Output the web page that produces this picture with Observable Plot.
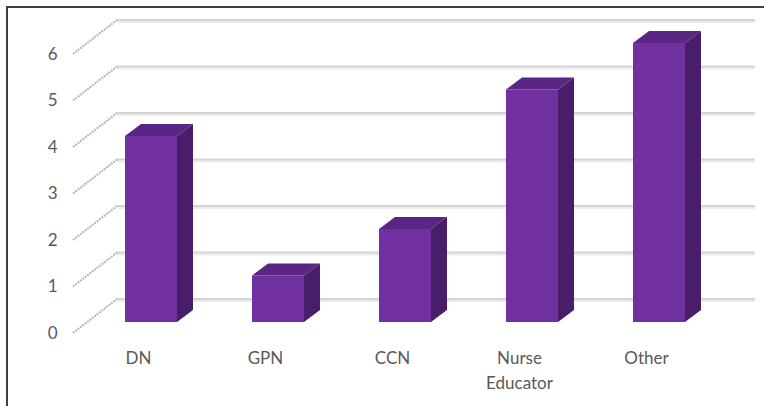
<!DOCTYPE html>
<html><head><meta charset="utf-8">
<script src="https://cdn.jsdelivr.net/npm/d3@7"></script>
<script src="https://cdn.jsdelivr.net/npm/@observablehq/plot@0.6"></script>
<style>
html,body{margin:0;padding:0;background:#fff;}
#wrap{position:relative;width:764px;height:406px;overflow:hidden;}
#border{position:absolute;left:6px;top:6px;right:0;bottom:0;border-left:2px solid #404040;border-top:2px solid #404040;pointer-events:none;}
svg{display:block;}
</style></head><body>
<div id="wrap"><div id="border"></div></div>
<script>
// ---- data ----
const categories = ["DN", "GPN", "CCN", "Nurse Educator", "Other"];
const counts = [4, 1, 2, 5, 6];
const yTicks = [0, 1, 2, 3, 4, 5, 6];
const labelLines = ["DN", "GPN", "CCN", "Nurse\nEducator", "Other"];

const rows = categories.map((c, i) => ({category: c, count: counts[i], label: labelLines[i]}));

// ---- style ----
const FRONT = "#7030A0", TOP = "#5A2583", SIDE = "#481D69";
const TEXT = "#595959", FONT = "Lato, 'Open Sans', sans-serif";
const DEPTH = [16, -12];       // bar depth offset (px)
const BACK = [30, -23];        // back wall offset from bar plane
const FLOOR_FRONT = [-14, 11]; // front floor edge offset from bar plane

const bw = s => typeof s.bandwidth === "function" ? s.bandwidth() : s.bandwidth;

function gridRender(index, scales, values, dimensions) {
  const g = d3.create("svg:g");
  const x0 = dimensions.marginLeft + 37 + BACK[0];
  const x1 = dimensions.width - dimensions.marginRight - 36 + BACK[0];
  for (const i of index) {
    const y = scales.y(yTicks[i]) + BACK[1];
    g.append("line").attr("x1", x0).attr("x2", x1).attr("y1", y + 2).attr("y2", y + 2)
      .attr("stroke", "#ececec").attr("stroke-width", 2);
    g.append("line").attr("x1", x0).attr("x2", x1).attr("y1", y).attr("y2", y)
      .attr("stroke", "#d4d4d4").attr("stroke-width", 2);
    // floor-side diagonal
    const fx = dimensions.marginLeft + 37 + FLOOR_FRONT[0];
    g.append("line")
      .attr("x1", fx).attr("y1", scales.y(yTicks[i]) + FLOOR_FRONT[1])
      .attr("x2", x0).attr("y2", y)
      .attr("stroke", "#b4b4b4").attr("stroke-width", 2)
      .attr("stroke-dasharray", "2,1");
  }
  return g.node();
}

function barRender(index, scales, values, dimensions, context, next) {
  const g = next(index, scales, values, dimensions, context);
  const sel = d3.select(g);
  const w = bw(scales.x);
  const [dx, dy] = DEPTH;
  for (const i of index) {
    const xl = scales.x(rows[i].category);
    const xr = xl + w;
    const yt = scales.y(rows[i].count);
    const yb = scales.y(0);
    sel.append("polygon")
      .attr("points", [[xl, yt], [xr, yt], [xr + dx, yt + dy], [xl + dx, yt + dy]].join(" "))
      .attr("fill", TOP);
    sel.append("polygon")
      .attr("points", [[xr, yt], [xr + dx, yt + dy], [xr + dx, yb + dy], [xr, yb]].join(" "))
      .attr("fill", SIDE);
  }
  return g;
}

const plot = Plot.plot({
  width: 764,
  height: 406,
  marginLeft: 50,
  marginRight: 3,
  marginTop: 43,
  marginBottom: 84,
  style: {fontFamily: FONT, background: "transparent"},
  x: {type: "band", domain: categories, paddingInner: 0.59, paddingOuter: 0.59, axis: null},
  y: {domain: [0, 6], axis: null},
  marks: [
    Plot.ruleY(yTicks, {y: d => d, render: gridRender}),
    Plot.barY(rows, {x: "category", y: "count", fill: FRONT, render: barRender}),
    Plot.text(yTicks, {y: d => d, frameAnchor: "left", textAnchor: "end", dx: 7, dy: 11,
      text: d => String(d), fill: TEXT, fontSize: 17}),
    Plot.text(rows, {x: "category", y: () => 0, text: "label", dx: -13, dy: 24,
      lineAnchor: "top", lineHeight: 1.47, fill: TEXT, fontSize: 17})
  ]
});
document.getElementById("wrap").prepend(plot);
</script>
</body></html>
